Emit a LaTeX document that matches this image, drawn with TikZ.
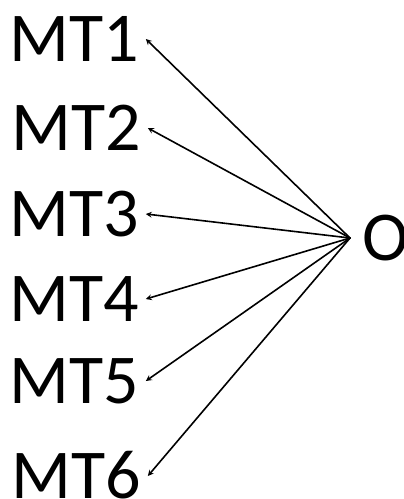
\documentclass[tikz,border=0pt]{standalone}
\usepackage{fontspec}
\setmainfont{Carlito}
\begin{document}
\begin{tikzpicture}[x=1pt,y=-1pt,font=\fontsize{70}{84}\selectfont,line join = round, line cap = round,>=stealth,
	lbl/.style={anchor=west,inner xsep=7pt,inner ysep=0pt,text height=45pt,text depth=0pt},
	arr/.style={->,line width=1.6pt}]
			\useasboundingbox (0,0) rectangle (404,499);
			\node[lbl] (mt1) at (2,39) {MT1};
			\node[lbl] (mt2) at (4,128) {MT2};
			\node[lbl] (mt3) at (2,214) {MT3};
			\node[lbl] (mt4) at (2,299) {MT4};
			\node[lbl] (mt5) at (2,381) {MT5};
			\node[lbl] (mt6) at (4,476) {MT6};
			\node[anchor=west,inner xsep=12pt,inner ysep=0pt,text height=45pt,text depth=0pt] (o) at (350,238) {O};
			\draw[arr] (o.west)--(mt1.east);\draw[arr] (o.west)--(mt2.east);\draw[arr] (o.west)--(mt3.east);
			\draw[arr] (o.west)--(mt4.east);\draw[arr] (o.west)--(mt5.east);\draw[arr] (o.west)--(mt6.east);
			\end{tikzpicture}
\end{document}
